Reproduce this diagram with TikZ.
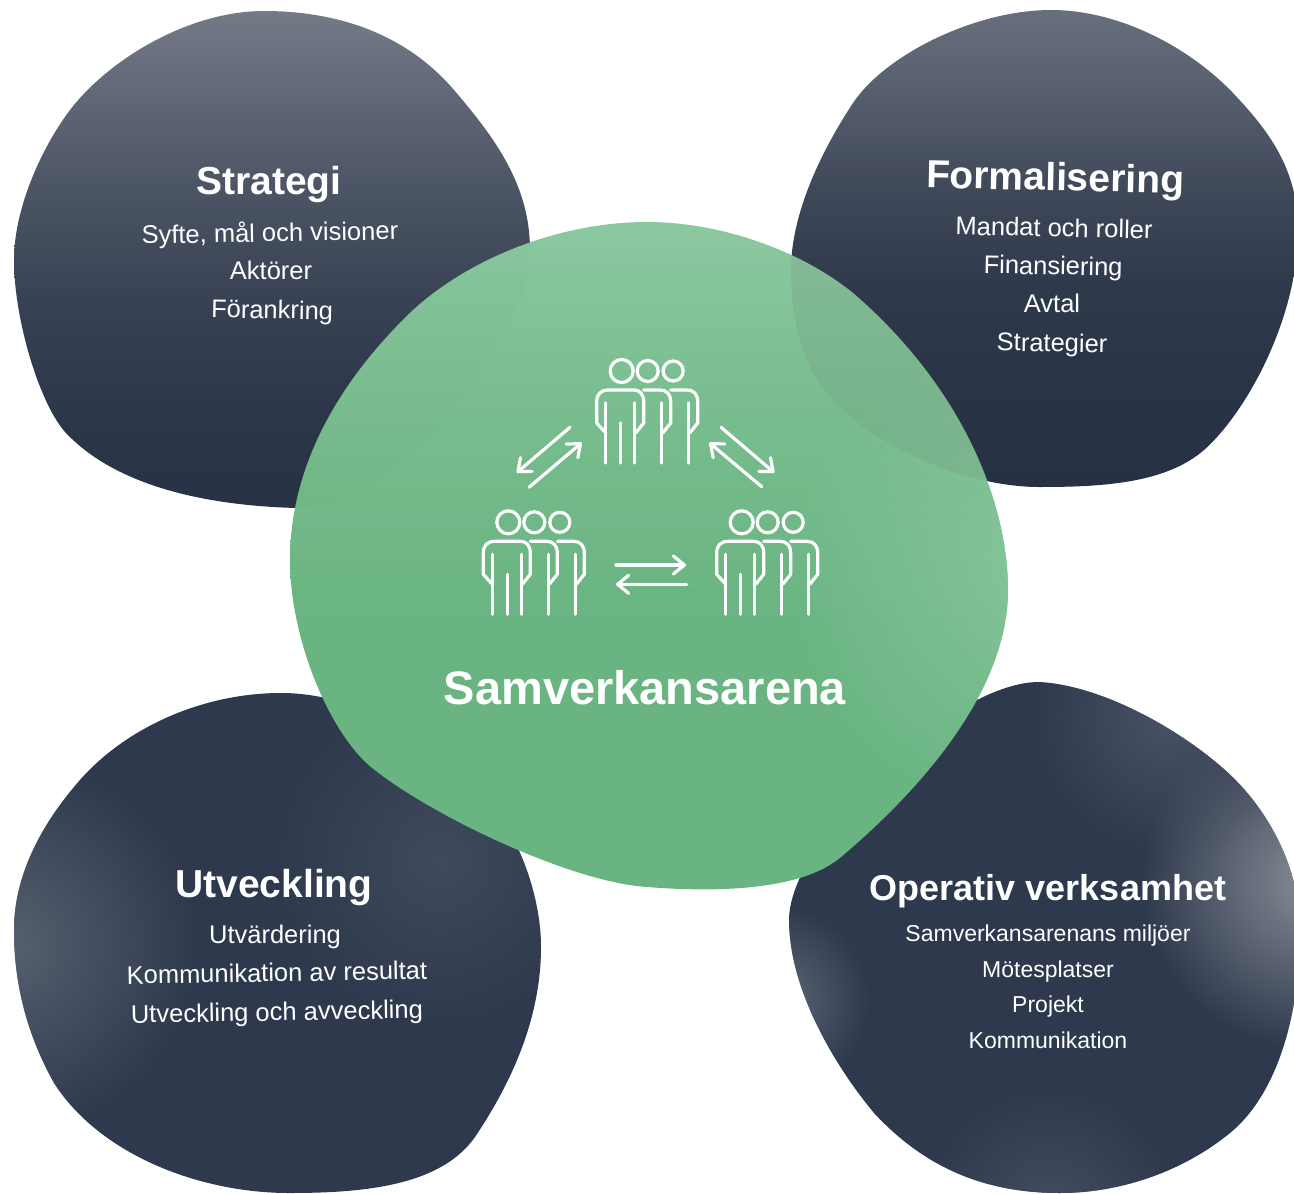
\documentclass[tikz,border=0pt]{standalone}
\usepackage{fontspec}
\setmainfont{Liberation Sans}
\usetikzlibrary{arrows.meta,fadings}
\definecolor{cGreenTop}{HTML}{8BC8A0}
\definecolor{cGreenMid}{HTML}{75BB8B}
\definecolor{cGreenLow}{HTML}{69B481}
\definecolor{cGreenSpot}{HTML}{8CC9A1}
\definecolor{cOver}{HTML}{6E8C7A}
\definecolor{cBase}{HTML}{2E394D}
\pgfdeclareverticalshading{darktop}{100bp}{
 color(0bp)=(rgb,255:red,40;green,50;blue,69);
 color(25bp)=(rgb,255:red,40;green,50;blue,69);
 color(34bp)=(rgb,255:red,44;green,54;blue,73);
 color(46bp)=(rgb,255:red,56;green,66;blue,84);
 color(56bp)=(rgb,255:red,74;green,83;blue,99);
 color(66bp)=(rgb,255:red,95;green,102;blue,117);
 color(75bp)=(rgb,255:red,117;green,122;blue,135);
 color(100bp)=(rgb,255:red,117;green,122;blue,135)}
\pgfdeclareverticalshading{darktopb}{100bp}{
 color(0bp)=(rgb,255:red,39;green,49;blue,68);
 color(25bp)=(rgb,255:red,39;green,49;blue,68);
 color(36bp)=(rgb,255:red,42;green,52;blue,71);
 color(46bp)=(rgb,255:red,47;green,57;blue,76);
 color(56bp)=(rgb,255:red,63;green,72;blue,89);
 color(66bp)=(rgb,255:red,86;green,94;blue,110);
 color(75bp)=(rgb,255:red,104;green,110;blue,124);
 color(100bp)=(rgb,255:red,104;green,110;blue,124)}
\pgfdeclareverticalshading{greenv}{100bp}{
 color(0bp)=(cGreenLow);
 color(25bp)=(cGreenLow);
 color(45bp)=(cGreenLow);
 color(58bp)=(cGreenMid);
 color(75bp)=(cGreenTop);
 color(100bp)=(cGreenTop)}
\tikzfading[name=spotfade, inner color=transparent!0, outer color=transparent!100]
\def\blobS{(264,11) .. controls (338,11) and (406,34) .. (454,90) .. controls (496,139) and (530,186) .. (530,250) .. controls (530,340) and (400,505) .. (297,508) .. controls (217,506) and (120,490) .. (66,433) .. controls (40,405) and (14,320) .. (14,260) .. controls (14,210) and (40,150) .. (70,110) .. controls (110,58) and (190,11) .. (264,11) -- cycle}
\def\blobF{(1051,10) .. controls (1120,10) and (1190,48) .. (1233,93) .. controls (1270,132) and (1298,170) .. (1298,230) .. controls (1298,320) and (1245,414) .. (1204,450) .. controls (1165,484) and (1100,487) .. (1039,487) .. controls (970,487) and (880,450) .. (833,400) .. controls (805,372) and (791,325) .. (791,270) .. controls (791,215) and (820,153) .. (853,103) .. controls (885,55) and (975,10) .. (1051,10) -- cycle}
\def\blobU{(281,693) .. controls (380,693) and (480,770) .. (520,853) .. controls (532,880) and (541,915) .. (541,947) .. controls (541,1020) and (510,1085) .. (475,1137) .. controls (440,1187) and (360,1193) .. (289,1193) .. controls (200,1193) and (100,1155) .. (54,1083) .. controls (30,1040) and (14,990) .. (14,930) .. controls (14,875) and (42,825) .. (74,787) .. controls (120,730) and (200,693) .. (281,693) -- cycle}
\def\blobO{(1039,682) .. controls (1100,685) and (1178,728) .. (1225,770) .. controls (1270,810) and (1300,870) .. (1300,930) .. controls (1300,1020) and (1275,1100) .. (1225,1137) .. controls (1180,1172) and (1120,1193) .. (1060,1193) .. controls (985,1193) and (925,1168) .. (874,1113) .. controls (830,1060) and (789,985) .. (789,920) .. controls (789,840) and (950,682) .. (1039,682) -- cycle}
\def\blobG{(647,222) .. controls (720,222) and (800,250) .. (853,293) .. controls (960,385) and (1008,500) .. (1008,590) .. controls (1008,700) and (905,803) .. (841,857) .. controls (800,892) and (710,892) .. (647,887) .. controls (570,882) and (430,815) .. (371,767) .. controls (330,733) and (290,640) .. (290,560) .. controls (290,460) and (345,375) .. (413,310) .. controls (470,258) and (560,222) .. (647,222) -- cycle}
\tikzset{
 line/.style={white,line width=3.2pt,line cap=round,line join=round},
 arrowline/.style={line,-{Straight Barb[length=11pt,width=18pt,line width=3.2pt,round]}},
 txt/.style={white,inner sep=0pt,anchor=mid},
 title/.style={txt,yshift=-12pt,font=\fontsize{39}{39}\selectfont\bfseries},
 item/.style={txt,yshift=-7pt,font=\fontsize{25.5}{26}\selectfont},
 titleo/.style={txt,yshift=-11pt,font=\fontsize{36}{36}\selectfont\bfseries},
 itemo/.style={txt,yshift=-6pt,font=\fontsize{23}{24}\selectfont},
 titlec/.style={txt,yshift=-14pt,font=\fontsize{47}{47}\selectfont\bfseries},
 peoplepic/.pic={
  \draw[line] (0,0) circle (11.5pt);
  \draw[line] (26,0) circle (10.5pt);
  \draw[line] (51.5,0) circle (10pt);
  \draw[line] (-16,62) -- (-25,52) -- (-25,31) .. controls (-25,23) and (-21,19) .. (-13,19) -- (12,19) .. controls (18,19) and (22,23) .. (22,31) -- (22,52) -- (14,62);
  \draw[line] (-16,32) -- (-16,92);
  \draw[line] (13,32) -- (13,92);
  \draw[line] (-1,52) -- (-1,92);
  \draw[line] (22,19) -- (38,19) .. controls (45,19) and (49,23) .. (49,31) -- (49,52) -- (41,62);
  \draw[line] (40,32) -- (40,92);
  \draw[line] (49,19) -- (65,19) .. controls (72,19) and (76,23) .. (76,31) -- (76,52) -- (68,62);
  \draw[line] (67,32) -- (67,92);
 }
}
\begin{document}
\begin{tikzpicture}[x=1pt,y=-1pt]
\useasboundingbox (0,0) rectangle (1294,1194);
\clip (0,0) rectangle (1294,1194);
% dark blobs
\shade[shading=darktop] \blobS;
\shade[shading=darktopb] \blobF;
\fill[cBase] \blobU;
\begin{scope}
 \clip \blobU;
 \fill[color={rgb,255:red,86;green,96;blue,112},path fading=spotfade] (10,945) circle (190pt);
 \fill[color={rgb,255:red,64;green,74;blue,92},path fading=spotfade] (440,860) circle (170pt);
\end{scope}
\fill[cBase] \blobO;
\begin{scope}
 \clip \blobO;
 \fill[color={rgb,255:red,135;green,140;blue,150},path fading=spotfade] (1310,880) circle (170pt);
 \fill[color={rgb,255:red,96;green,104;blue,120},path fading=spotfade] (775,1000) circle (95pt);
 \fill[color={rgb,255:red,68;green,78;blue,96},path fading=spotfade] (1050,1215) circle (130pt);
 \fill[color={rgb,255:red,74;green,83;blue,100},path fading=spotfade] (1170,715) circle (140pt);
\end{scope}
% central blob
\shade[shading=greenv] \blobG;
\begin{scope}
 \clip \blobG;
 \fill[cGreenSpot,opacity=.8,path fading=spotfade] (1040,570) circle (260pt);
 \fill[cOver,opacity=.2] \blobF;
 \fill[black,opacity=.006] \blobS;
\end{scope}
% people
\path (621.7,371) pic {peoplepic};
\path (508.3,522.3) pic {peoplepic};
\path (741.7,522.3) pic {peoplepic};
% arrows
\coordinate (a1s) at (570,427.3); \coordinate (a1e) at (516.7,472.7);
\coordinate (a2s) at (529,487.3); \coordinate (a2e) at (581.7,442.7);
\coordinate (a3s) at (761.7,486.7); \coordinate (a3e) at (709.3,442.7);
\coordinate (a4s) at (721,427.3); \coordinate (a4e) at (774.3,472.7);
\coordinate (a5s) at (616,565); \coordinate (a5e) at (686,565);
\coordinate (a6s) at (686.7,584.3); \coordinate (a6e) at (616,584.3);
\draw[arrowline] (a1s) -- (a1e);
\draw[arrowline] (a2s) -- (a2e);
\draw[arrowline] (a3s) -- (a3e);
\draw[arrowline] (a4s) -- (a4e);
\draw[arrowline] (a5s) -- (a5e);
\draw[arrowline] (a6s) -- (a6e);
% texts
\node[title] (t1) at (269,180) {Strategi};
\node[item,rotate=1] (s1) at (270,232) {Syfte, mål och visioner};
\node[item] (s2) at (271,270) {Aktörer};
\node[item,rotate=-1] (s3) at (272,309) {Förankring};
\node[title,rotate=-1.2] (t2) at (1055,176) {Formalisering};
\node[item,rotate=-1.2] (f1) at (1054,227) {Mandat och roller};
\node[item,rotate=-1] (f2) at (1053,265) {Finansiering};
\node[item] (f3) at (1052,303) {Avtal};
\node[item,rotate=-1] (f4) at (1052,342) {Strategier};
\node[title] (t3) at (274,883) {Utveckling};
\node[item] (u1) at (275,934) {Utvärdering};
\node[item,rotate=1] (u2) at (277,972) {Kommunikation av resultat};
\node[item,rotate=1] (u3) at (277,1011) {Utveckling och avveckling};
\node[titleo] (t4) at (1048,887) {Operativ verksamhet};
\node[itemo] (o1) at (1048,933) {Samverkansarenans miljöer};
\node[itemo] (o2) at (1048,969) {Mötesplatser};
\node[itemo] (o3) at (1048,1004) {Projekt};
\node[itemo] (o4) at (1048,1040) {Kommunikation};
\node[titlec] (t0) at (645,688) {Samverkansarena};
\end{tikzpicture}
\end{document}
